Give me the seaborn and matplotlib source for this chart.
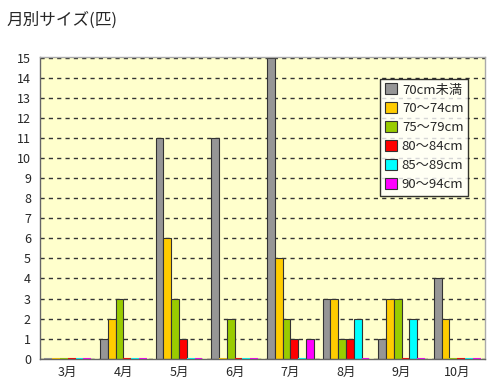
import pandas as pd
import matplotlib
matplotlib.use('Agg')
import matplotlib.pyplot as plt
import seaborn as sns

# data
months = ['3月', '4月', '5月', '6月', '7月', '8月', '9月', '10月']
sizes = ['70cm未満', '70～74cm', '75～79cm', '80～84cm', '85～89cm', '90～94cm']
s_under70 = [0, 1, 11, 11, 15, 3, 1, 4]
s_70_74 = [0, 2, 6, 0, 5, 3, 3, 2]
s_75_79 = [0, 3, 3, 2, 2, 1, 3, 0]
s_80_84 = [0, 0, 1, 0, 1, 1, 0, 0]
s_85_89 = [0, 0, 0, 0, 0, 2, 2, 0]
s_90_94 = [0, 0, 0, 0, 1, 0, 0, 0]
colors = ['#969696', '#FFCC00', '#99CC00', '#FF0000', '#00FFFF', '#FF00FF']

series = [s_under70, s_70_74, s_75_79, s_80_84, s_85_89, s_90_94]
rows = []
for size, vals in zip(sizes, series):
    for m, v in zip(months, vals):
        rows.append({'month': m, 'size': size, 'count': v})
df = pd.DataFrame(rows)

sns.set_style('white')
plt.rcParams['font.family'] = ['Noto Sans CJK JP', 'DejaVu Sans']

fig = plt.figure(figsize=(5, 3.92), dpi=100)
ax = fig.add_axes([0.08, 0.085, 0.89, 0.77])
ax.set_facecolor('#FFFFCC')

sns.barplot(data=df, x='month', y='count', hue='size', order=months,
            hue_order=sizes, palette=colors, width=0.84, ax=ax,
            edgecolor='#333333', linewidth=0.8, saturation=1)

# zero bars show as thin colored strips on the floor
for p in ax.patches:
    if p.get_height() == 0 and p.get_width() > 0:
        p.set_edgecolor(p.get_facecolor())
        p.set_linewidth(1.5)

ax.set_ylim(0, 15.05)
ax.set_xlim(-0.5, 7.5)
ax.set_yticks(range(0, 16))
ax.yaxis.grid(True, linestyle=(0, (3, 3)), color='#333333', linewidth=1)
ax.set_axisbelow(True)
ax.set_xlabel('')
ax.set_ylabel('')
ax.tick_params(axis='both', labelsize=9, length=3, color='#666666')
ax.tick_params(axis='x', length=0, pad=5)
for s in ax.spines.values():
    s.set_color('#AAAAAA')
    s.set_linewidth(1)
ax.spines['left'].set_color('#666666')
ax.spines['bottom'].set_color('#666666')

leg = ax.legend(loc='upper right', bbox_to_anchor=(0.962, 0.927), fontsize=9.5,
                frameon=True, fancybox=False, edgecolor='black',
                handlelength=0.9, handleheight=0.9, handletextpad=0.4,
                borderpad=0.35, labelspacing=0.45, borderaxespad=0)
leg.get_frame().set_linewidth(1)
for h in leg.legend_handles:
    h.set_edgecolor('#333333')

fig.text(0.012, 0.948, '月別サイズ(匹)', fontsize=12, ha='left', va='center')

fig.savefig('out.png', dpi=100)
